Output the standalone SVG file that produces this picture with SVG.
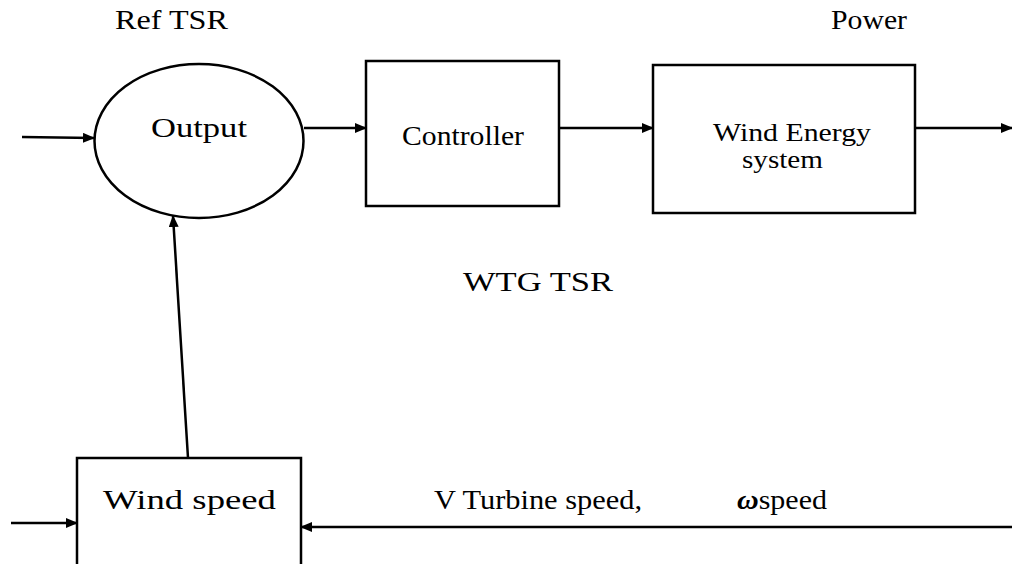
<svg xmlns="http://www.w3.org/2000/svg" width="1012" height="564" viewBox="0 0 1012 564">
<style>
.shape{fill:#fff;stroke:#000;stroke-width:2.5}
.line{fill:none;stroke:#000;stroke-width:2.5}
text{font-family:'Liberation Serif','Times New Roman',Times,'DejaVu Serif',serif;fill:#000}
.lbl{font-size:27px}
.tnr{font-size:28px}
.two{font-size:25px}
</style>
<defs>
<marker id="ah" markerWidth="12" markerHeight="10" refX="11" refY="5" orient="auto" markerUnits="userSpaceOnUse">
<path d="M0,0 L12,5 L0,10 Z" fill="#000"/>
</marker>
</defs>
<rect width="1012" height="564" fill="#fff"/>
<g id="connectors">
<line class="line" x1="22" y1="137" x2="94" y2="138" marker-end="url(#ah)"/>
<line class="line" x1="304" y1="128" x2="366" y2="128" marker-end="url(#ah)"/>
<line class="line" x1="559" y1="128" x2="653" y2="128" marker-end="url(#ah)"/>
<line class="line" x1="915" y1="128" x2="1012" y2="128" marker-end="url(#ah)"/>
<line class="line" x1="188" y1="458" x2="173" y2="216" marker-end="url(#ah)"/>
<line class="line" x1="11" y1="523" x2="77" y2="523" marker-end="url(#ah)"/>
<line class="line" x1="1012" y1="527" x2="301" y2="527" marker-end="url(#ah)"/>
</g>
<g id="output">
<ellipse class="shape" cx="199" cy="141" rx="104.5" ry="77"/>
<text class="lbl" font-family="Liberation Serif, serif" x="151" y="137" textLength="96" lengthAdjust="spacingAndGlyphs">Output</text>
</g>
<g id="controller">
<rect class="shape" x="366" y="61" width="193" height="145"/>
<text class="tnr" font-family="Liberation Serif, serif" x="402" y="145" textLength="122" lengthAdjust="spacingAndGlyphs">Controller</text>
</g>
<g id="wind-energy-system">
<rect class="shape" x="653" y="65" width="262" height="148"/>
<text class="two" font-family="Liberation Serif, serif" x="713" y="141" textLength="158" lengthAdjust="spacingAndGlyphs">Wind Energy</text>
<text class="two" font-family="Liberation Serif, serif" x="742" y="168" textLength="81" lengthAdjust="spacingAndGlyphs">system</text>
</g>
<g id="wind-speed">
<path class="line" d="M77,566 L77,458 L301,458 L301,566"/>
<text class="lbl" font-family="Liberation Serif, serif" x="103" y="509" textLength="173" lengthAdjust="spacingAndGlyphs">Wind speed</text>
</g>
<g id="labels">
<text class="lbl" font-family="Liberation Serif, serif" x="115" y="29" textLength="113" lengthAdjust="spacingAndGlyphs">Ref TSR</text>
<text class="lbl" font-family="Liberation Serif, serif" x="831" y="29" textLength="76" lengthAdjust="spacingAndGlyphs">Power</text>
<text class="lbl" font-family="Liberation Serif, serif" x="463" y="291" textLength="150" lengthAdjust="spacingAndGlyphs">WTG TSR</text>
<text class="lbl" font-family="Liberation Serif, serif" x="434" y="509" textLength="208" lengthAdjust="spacingAndGlyphs">V Turbine speed,</text>
<text class="lbl" font-family="Liberation Serif, serif" x="737" y="509" textLength="90" lengthAdjust="spacingAndGlyphs"><tspan font-weight="bold" font-style="italic">ω</tspan>speed</text>
</g>
</svg>
